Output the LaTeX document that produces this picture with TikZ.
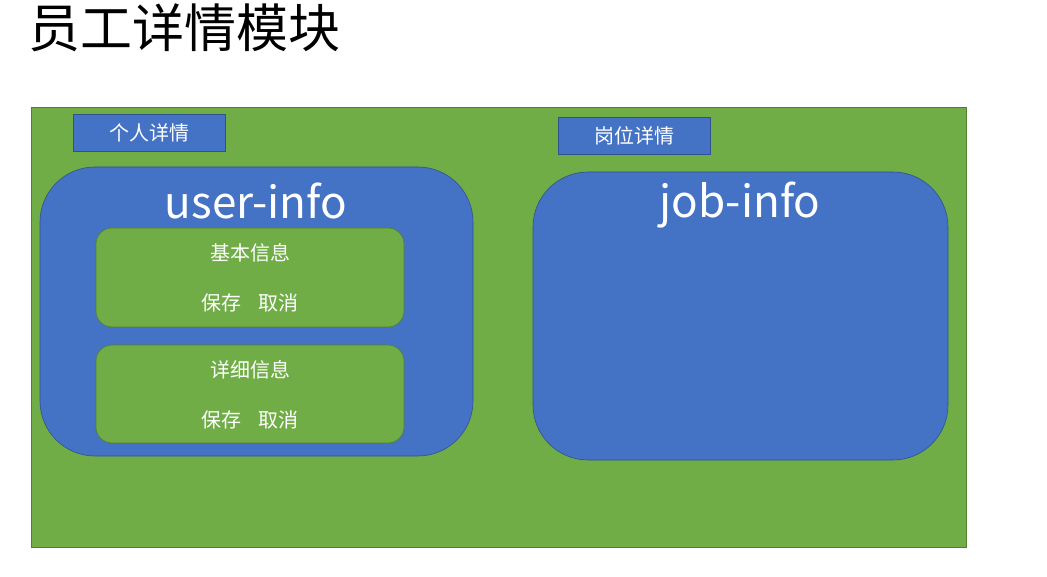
\documentclass[tikz,border=0pt]{standalone}
\usepackage{fontspec}
\setmainfont{Noto Sans CJK SC}
\usepackage{xcolor}
\usepackage{tikz}
\definecolor{panelgreen}{HTML}{70AD47}
\definecolor{greenline}{HTML}{507E32}
\definecolor{panelblue}{HTML}{4472C4}
\definecolor{blueline}{HTML}{2F528F}

\begin{document}
\begin{tikzpicture}[
    x=1pt, y=-1pt,
    tag/.style={draw=blueline, fill=panelblue, text=white, line width=0.6pt,
      minimum width=152pt, minimum height=37pt, font=\fontsize{20}{20}\selectfont},
    infobox/.style={draw=blueline, fill=panelblue, line width=0.6pt, rounded corners=55pt},
    subbox/.style={draw=greenline, fill=panelgreen, line width=0.6pt, rounded corners=16pt},
    bigtext/.style={text=white, font=\fontsize{44}{44}\selectfont},
    smalltext/.style={text=white, font=\fontsize{20}{20}\selectfont}
  ]
  \useasboundingbox (0,0) rectangle (1047,577);

  % title
  \node[anchor=west, inner sep=0pt, font=\fontsize{52}{52}\selectfont] (title) at (28,28) {员工详情模块};

  % outer panel
  \draw[draw=greenline, fill=panelgreen, line width=0.6pt] (31,107) rectangle (966,547);

  % tags
  \node[tag] (usertag) at (149,132.5) {个人详情};
  \node[tag] (jobtag) at (634,135.5) {岗位详情};

  % user-info block
  \draw[infobox] (40,167) rectangle (473,456);
  \node[bigtext] (usertitle) at (256,201) {user-info};

  \draw[subbox] (96,228) rectangle (404,327);
  \node[smalltext] (basic) at (250,253) {基本信息};
  \node[smalltext] (basicbtn) at (250,303) {保存\hspace{0.9em}取消};

  \draw[subbox] (96,345) rectangle (404,443);
  \node[smalltext] (detail) at (250,370) {详细信息};
  \node[smalltext] (detailbtn) at (250,420) {保存\hspace{0.9em}取消};

  % job-info block
  \draw[infobox] (533,172) rectangle (948,460);
  \node[bigtext] (jobtitle) at (740,205) {job-info};
\end{tikzpicture}
\end{document}
